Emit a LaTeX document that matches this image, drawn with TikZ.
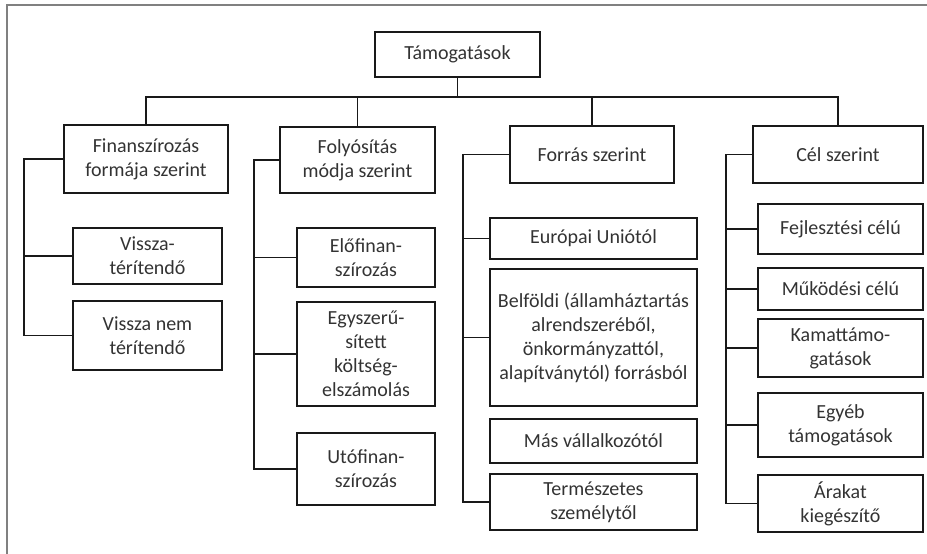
\documentclass[tikz,border=0pt]{standalone}
\usepackage{fontspec}
\setmainfont{Carlito}
\begin{document}
\begin{tikzpicture}[x=1pt,y=-1pt,
  catbox/.style={draw=black!90,line width=2.2pt,align=center,inner sep=2pt,
    text=black!80,font=\fontsize{20}{24}\selectfont},
  link/.style={draw=black!90,line width=1.9pt}]
  \useasboundingbox (0,0) rectangle (927,554);
  \draw[black!50,line width=1.5pt]
    (7,554)
    --
    (7,5)
    --
    (927,5);
  % top and the four groups
  \node[catbox,line width=2.8pt,minimum width=165pt,minimum height=45pt] (tam) at (457.5,54.5) {Támogatások};
  \node[catbox,minimum width=164pt,minimum height=68pt] (fin) at (146,159) {Finanszírozás\\formája szerint};
  \node[catbox,minimum width=155pt,minimum height=66pt] (foly) at (357.5,160) {Folyósítás\\módja szerint};
  \node[catbox,minimum width=164pt,minimum height=57pt] (forr) at (592,154.5) {Forrás szerint};
  \node[catbox,minimum width=170pt,minimum height=57pt] (cel) at (838,154.5) {Cél szerint};
  % first column
  \node[catbox,minimum width=149pt,minimum height=56pt] (vt) at (147.5,256) {Vissza-\\térítendő};
  \node[catbox,minimum width=149pt,minimum height=69pt] (vnt) at (147.5,335.5) {Vissza nem\\térítendő};
  % second column
  \node[catbox,minimum width=138pt,minimum height=59pt] (elo) at (366,257.5) {Előfinan-\\szírozás};
  \node[catbox,minimum width=138pt,minimum height=104pt] (egysz) at (366,354) {Egyszerű-\\sített\\költség-\\elszámolás};
  \node[catbox,minimum width=138pt,minimum height=72pt] (uto) at (366,469) {Utófinan-\\szírozás};
  % third column
  \node[catbox,minimum width=207pt,minimum height=41pt] (eu) at (593.5,238.5) {Európai Uniótól};
  \node[catbox,minimum width=207pt,minimum height=137pt] (belf) at (593.5,337.5) {Belföldi (államháztartás\\alrendszeréből,\\önkormányzattól,\\alapítványtól) forrásból};
  \node[catbox,minimum width=207pt,minimum height=44pt] (mas) at (593.5,441) {Más vállalkozótól};
  \node[catbox,minimum width=207pt,minimum height=56pt] (term) at (593.5,502) {Természetes\\személytől};
  % fourth column
  \node[catbox,minimum width=165pt,minimum height=50pt] (fejl) at (840.5,229) {Fejlesztési célú};
  \node[catbox,minimum width=165pt,minimum height=42pt] (mukod) at (840.5,289) {Működési célú};
  \node[catbox,minimum width=165pt,minimum height=58pt] (kamat) at (840.5,348) {Kamattámo-\\gatások};
  \node[catbox,minimum width=165pt,minimum height=64pt] (egyeb) at (840.5,425) {Egyéb\\támogatások};
  \node[catbox,minimum width=165pt,minimum height=57pt] (arak) at (840.5,503.5) {Árakat\\kiegészítő};
  % bus
  \coordinate (bus) at (0,97);
  \draw[link]
    (fin.north)
    --
    (fin.north |- bus)
    --
    (cel.north |- bus)
    --
    (cel.north);
  \draw[link]
    (tam.south)
    --
    (tam.south |- bus);
  \draw[link]
    (foly.north)
    --
    (foly.north |- bus);
  \draw[link]
    (forr.north)
    --
    (forr.north |- bus);
  % rails
  \draw[link]
    (fin.west)
    --
    ++(-39,0) coordinate (finrail)
    |-
    (vnt.west);
  \draw[link]
    (finrail)
    |-
    (vt.west);
  \draw[link]
    (foly.west)
    --
    ++(-25,0) coordinate (folyrail)
    |-
    (uto.west);
  \draw[link]
    (folyrail)
    |-
    (elo.west);
  \draw[link]
    (folyrail)
    |-
    (egysz.west);
  \draw[link]
    (forr.west)
    --
    ++(-46,0) coordinate (forrrail)
    |-
    (term.west);
  \draw[link]
    (forrrail)
    |-
    (eu.west);
  \draw[link]
    (forrrail)
    |-
    (belf.west);
  \draw[link]
    (cel.west)
    --
    ++(-26,0) coordinate (celrail)
    |-
    (arak.west);
  \draw[link]
    (celrail)
    |-
    (fejl.west);
  \draw[link]
    (celrail)
    |-
    (mukod.west);
  \draw[link]
    (celrail)
    |-
    (kamat.west);
  \draw[link]
    (celrail)
    |-
    (egyeb.west);
\end{tikzpicture}
\end{document}
